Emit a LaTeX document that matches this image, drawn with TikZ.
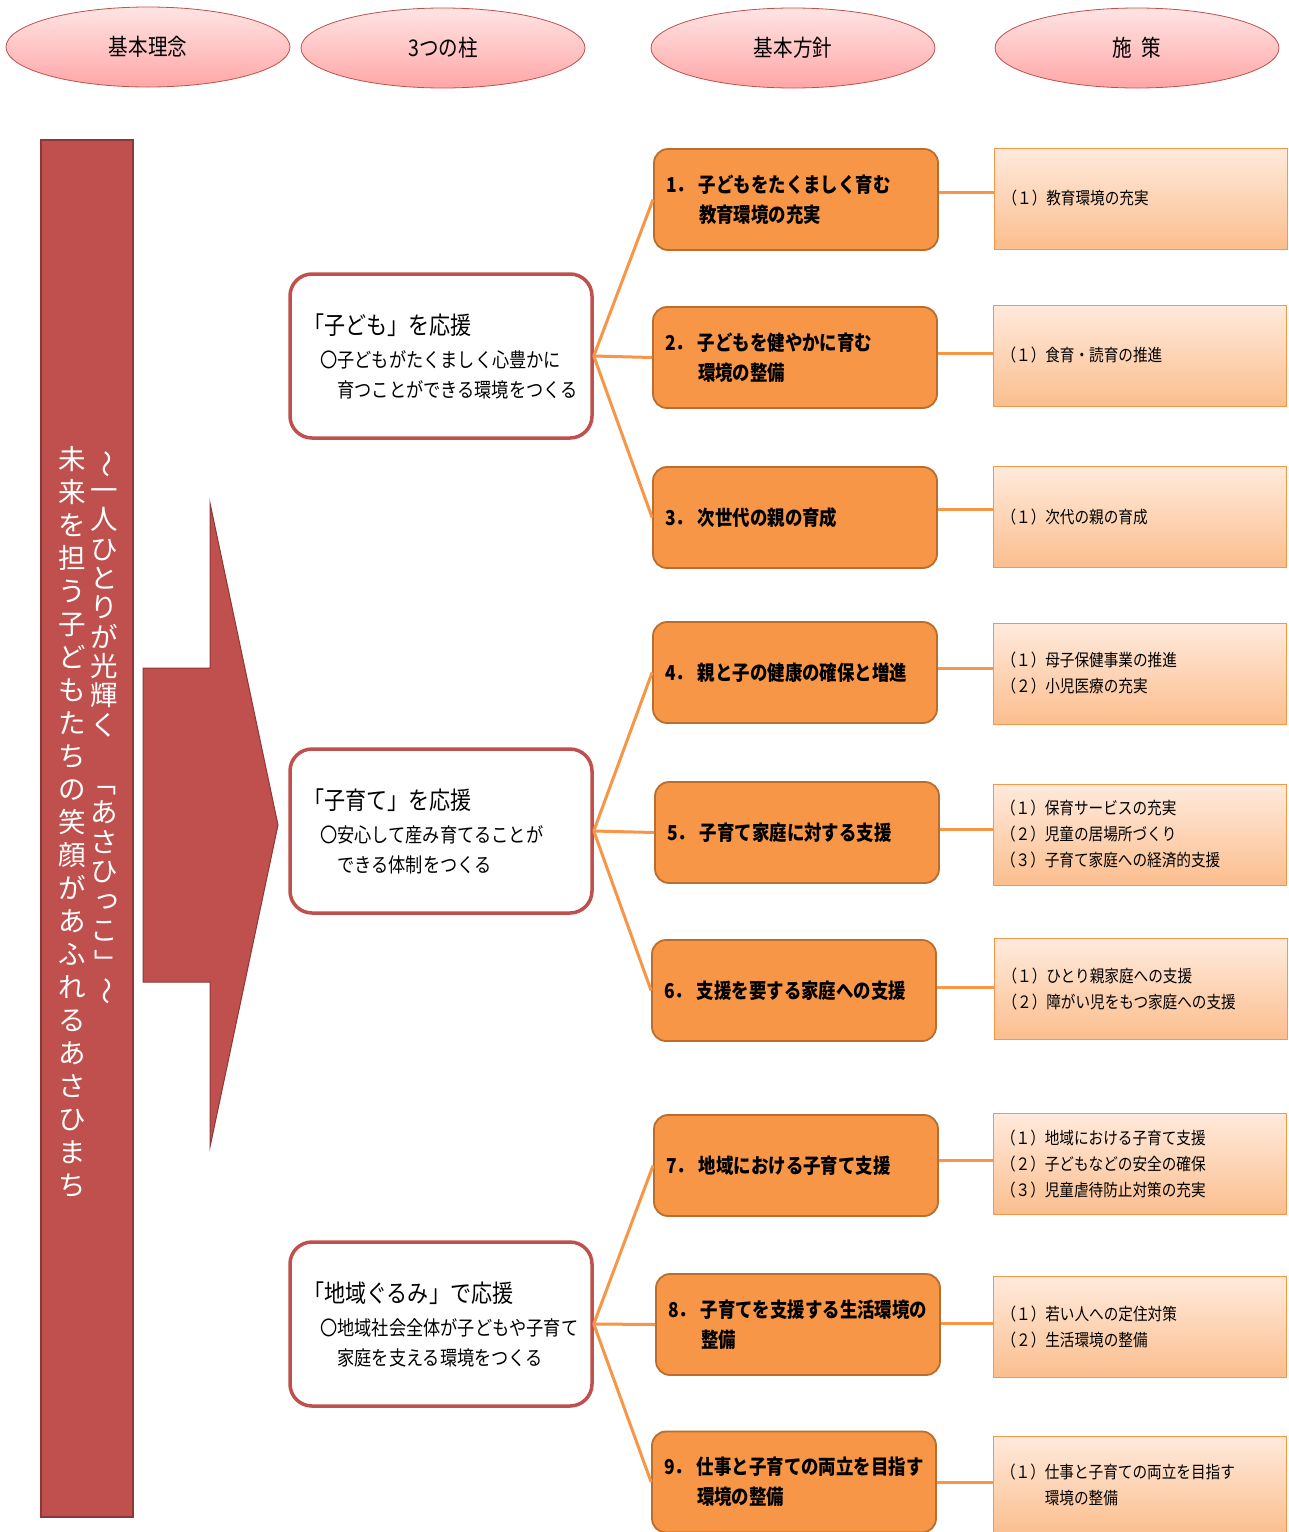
\documentclass[tikz,border=0pt]{standalone}
\usepackage{fontspec}
\usepackage{graphicx}
\usetikzlibrary{shapes.geometric}
\newfontfamily\jpn[FakeStretch=0.85]{Noto Sans CJK JP}
\newfontfamily\jpm[FakeStretch=0.86]{Noto Sans CJK JP}
\newfontfamily\jpv{Noto Sans CJK JP}
\newcommand\hdrf{\jpn\fontsize{23}{28}\selectfont}
\newcommand\polf{\jpn\bfseries\fontsize{20.5}{30}\selectfont}
\newcommand\pilsub{\jpm\fontsize{20}{30}\selectfont}
\newcommand\piltit{\jpm\fontsize{24.5}{30}\selectfont}
\newcommand\measf{\jpm\fontsize{17}{26}\selectfont}
\newcommand\vertf{\jpv\fontsize{27.5}{33}\selectfont}
\newcommand\vertg{\jpv\fontsize{27.5}{29.3}\selectfont}
\newcommand\lbl[1]{\makebox[33pt][l]{#1}}
\newcommand\vrot[1]{\rotatebox[origin=c]{-90}{#1}}
\definecolor{redA}{RGB}{192,80,77}
\definecolor{redD}{RGB}{140,56,54}
\definecolor{orA}{RGB}{247,150,70}
\definecolor{orD}{RGB}{185,110,45}
\definecolor{pkT}{RGB}{255,228,228}
\definecolor{pkB}{RGB}{255,166,166}
\definecolor{peT}{RGB}{255,234,220}
\definecolor{peB}{RGB}{251,190,142}
\begin{document}
\begin{tikzpicture}[x=1pt,y=-1pt,
  hdr/.style={ellipse, draw=redA, line width=0.8pt, top color=pkT, bottom color=pkB,
    minimum width=284pt, minimum height=80pt, inner sep=0pt, font=\hdrf},
  pillar/.style={draw=redA, line width=3.5pt, fill=white, rounded corners=22pt,
    minimum width=302pt, minimum height=164pt, inner xsep=0pt, inner ysep=0pt,
    text width=276pt, align=left, font=\pilsub},
  policy/.style={draw=orD, line width=1.8pt, fill=orA, rounded corners=14pt,
    minimum width=284pt, minimum height=101pt, inner xsep=0pt, inner ysep=0pt,
    text width=260pt, align=left, font=\polf},
  meas/.style={draw=orA, line width=0.8pt, top color=peT, bottom color=peB,
    minimum width=293pt, minimum height=101pt, inner xsep=0pt, inner ysep=0pt,
    text width=277pt, align=left, font=\measf},
  conn/.style={draw=orA, line width=3pt},
  vcol/.style={text=white, align=center, inner sep=0pt}
]
\useasboundingbox (0,0) rectangle (1289,1532);
\fill[white] (0,0) rectangle (1289,1532);

% headers
\node[hdr] (h1) at (148,47) {基本理念};
\node[hdr] (h2) at (443,48) {3つの柱};
\node[hdr] (h3) at (793,48) {基本方針};
\node[hdr] (h4) at (1137,48) {施\hspace{9pt}策};

% left bar
\node[draw=redD, fill=redA, line width=1.5pt, minimum width=92pt, minimum height=1377pt, inner sep=0pt] (bar) at (87,828.5) {};
\node[vcol, font=\vertf] (vl) at (72,822) {未\\来\\を\\担\\う\\子\\ど\\も\\た\\ち\\の\\笑\\顔\\が\\あ\\ふ\\れ\\る\\あ\\さ\\ひ\\ま\\ち};
\node[vcol, font=\vertg] (vr) at (104,728) {\vrot{～}\\一\\人\\ひ\\と\\り\\が\\光\\輝\\く\\　\\\vrot{「}\\あ\\さ\\ひ\\\hspace*{6pt}\raisebox{2pt}{っ}\\こ\\\vrot{」}\\\vrot{～}};

% big arrow
\draw[fill=redA, draw=redD, line width=1pt] (143,668) -- (210,668) -- (210,503) -- (278,825) -- (210,1147) -- (210,982) -- (143,982) -- cycle;

% pillars
\node[pillar] (k1) at (441,356) {{\piltit 「子ども」を応援}\\[3pt]　〇子どもがたくましく心豊かに\\　　育つことができる環境をつくる};
\node[pillar] (k2) at (441,831) {{\piltit 「子育て」を応援}\\[3pt]　〇安心して産み育てることが\\　　できる体制をつくる};
\node[pillar] (k3) at (441,1324) {{\piltit 「地域ぐるみ」で応援}\\[3pt]　〇地域社会全体が子どもや子育て\\　　家庭を支える環境をつくる};

% policies
\node[policy] (p1) at (796,199.5) {\lbl{1．}子どもをたくましく育む\\\hspace*{33pt}教育環境の充実};
\node[policy] (p2) at (795,357.5) {\lbl{2．}子どもを健やかに育む\\\hspace*{33pt}環境の整備};
\node[policy] (p3) at (795,517.5) {\lbl{3．}次世代の親の育成};
\node[policy] (p4) at (795,672.5) {\lbl{4．}親と子の健康の確保と増進};
\node[policy] (p5) at (797,832.5) {\lbl{5．}子育て家庭に対する支援};
\node[policy] (p6) at (794,990.5) {\lbl{6．}支援を要する家庭への支援};
\node[policy] (p7) at (796,1165.5) {\lbl{7．}地域における子育て支援};
\node[policy] (p8) at (798,1324.5) {\lbl{8．}子育てを支援する生活環境の\\\hspace*{33pt}整備};
\node[policy] (p9) at (794,1482) {\lbl{9．}仕事と子育ての両立を目指す\\\hspace*{33pt}環境の整備};

% measures
\node[meas] (m1) at (1141,198.5) {（１）教育環境の充実};
\node[meas] (m2) at (1140,355.5) {（１）食育・読育の推進};
\node[meas] (m3) at (1140,517) {（１）次代の親の育成};
\node[meas] (m4) at (1140,673.5) {（１）母子保健事業の推進\\（２）小児医療の充実};
\node[meas] (m5) at (1139.5,834.5) {（１）保育サービスの充実\\（２）児童の居場所づくり\\（３）子育て家庭への経済的支援};
\node[meas] (m6) at (1141,989) {（１）ひとり親家庭への支援\\（２）障がい児をもつ家庭への支援};
\node[meas] (m7) at (1139.5,1164) {（１）地域における子育て支援\\（２）子どもなどの安全の確保\\（３）児童虐待防止対策の充実};
\node[meas] (m8) at (1140,1327) {（１）若い人への定住対策\\（２）生活環境の整備};
\node[meas, minimum height=98pt] (m9) at (1139.5,1485) {（１）仕事と子育ての両立を目指す\\\phantom{（１）}環境の整備};

% pillar -> policy connectors
\draw[conn] (k1.east) -- (p1.west);
\draw[conn] (k1.east) -- (p2.west);
\draw[conn] (k1.east) -- (p3.west);
\draw[conn] (k2.east) -- (p4.west);
\draw[conn] (k2.east) -- (p5.west);
\draw[conn] (k2.east) -- (p6.west);
\draw[conn] (k3.east) -- (p7.west);
\draw[conn] (k3.east) -- (p8.west);
\draw[conn] (k3.east) -- (p9.west);

% policy -> measure connectors
\coordinate (y1) at (0,192);
\coordinate (y2) at (0,353);
\coordinate (y3) at (0,509);
\coordinate (y4) at (0,668);
\coordinate (y5) at (0,829);
\coordinate (y6) at (0,987);
\coordinate (y7) at (0,1160);
\coordinate (y8) at (0,1323);
\coordinate (y9) at (0,1482);
\foreach \i in {1,...,9} {
  \draw[conn] (p\i.east |- y\i) -- (m\i.west |- y\i);
}
\end{tikzpicture}
\end{document}
